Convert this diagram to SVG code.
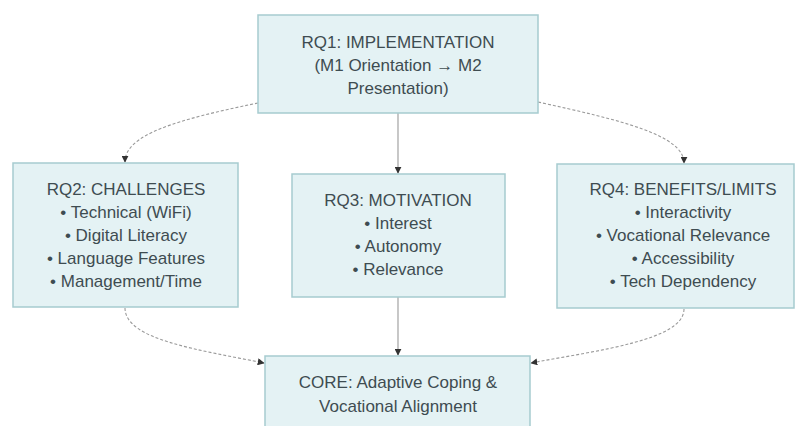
<svg xmlns="http://www.w3.org/2000/svg" width="797" height="426" viewBox="0 0 797 426">
<style>
.box{fill:#e4f2f4;stroke:#a6cbcf;stroke-width:1.5}
.t{font-family:"Liberation Sans",Arial,sans-serif;font-size:17px;fill:#3e4c51;text-anchor:middle}
.c{fill:none;stroke:#9a9a9a;stroke-width:1.1}
.d{stroke-dasharray:3 2}
</style>
<defs>
<marker id="ah" viewBox="0 0 10 10" refX="9" refY="5" markerWidth="7" markerHeight="7" markerUnits="userSpaceOnUse" orient="auto">
<path d="M0,0 L10,5 L0,10 z" fill="#333"/>
</marker>
</defs>
<rect width="797" height="426" fill="#ffffff"/>
<g id="connectors">
<path class="c d" d="M258,103 C175,120 125,135 125,162" marker-end="url(#ah)"/>
<path class="c" d="M398,113 L398,173" marker-end="url(#ah)"/>
<path class="c d" d="M538,102 C620,120 684,135 684,163" marker-end="url(#ah)"/>
<path class="c d" d="M125,308 C125,340 200,350 264,363" marker-end="url(#ah)"/>
<path class="c" d="M398,297 L398,355" marker-end="url(#ah)"/>
<path class="c d" d="M684,309 C684,340 600,350 531,363" marker-end="url(#ah)"/>
</g>
<g id="rq1">
<rect class="box" x="258" y="15" width="280" height="98"/>
<text class="t" x="398" y="48">RQ1: IMPLEMENTATION</text>
<text class="t" x="398" y="71">(M1 Orientation → M2</text>
<text class="t" x="398" y="94">Presentation)</text>
</g>
<g id="rq2">
<rect class="box" x="13" y="163" width="225" height="144"/>
<text class="t" x="126" y="195">RQ2: CHALLENGES</text>
<text class="t" x="126" y="218">• Technical (WiFi)</text>
<text class="t" x="126" y="241">• Digital Literacy</text>
<text class="t" x="126" y="264">• Language Features</text>
<text class="t" x="126" y="287">• Management/Time</text>
</g>
<g id="rq3">
<rect class="box" x="292" y="174" width="213" height="123"/>
<text class="t" x="398" y="206">RQ3: MOTIVATION</text>
<text class="t" x="398" y="229">• Interest</text>
<text class="t" x="398" y="252">• Autonomy</text>
<text class="t" x="398" y="275">• Relevance</text>
</g>
<g id="rq4">
<rect class="box" x="557" y="164" width="237" height="144"/>
<text class="t" x="683" y="195">RQ4: BENEFITS/LIMITS</text>
<text class="t" x="683" y="218">• Interactivity</text>
<text class="t" x="683" y="241">• Vocational Relevance</text>
<text class="t" x="683" y="264">• Accessibility</text>
<text class="t" x="683" y="287">• Tech Dependency</text>
</g>
<g id="core">
<rect class="box" x="265" y="356" width="265" height="80"/>
<text class="t" x="398" y="388">CORE: Adaptive Coping &amp;</text>
<text class="t" x="398" y="412">Vocational Alignment</text>
</g>
</svg>
